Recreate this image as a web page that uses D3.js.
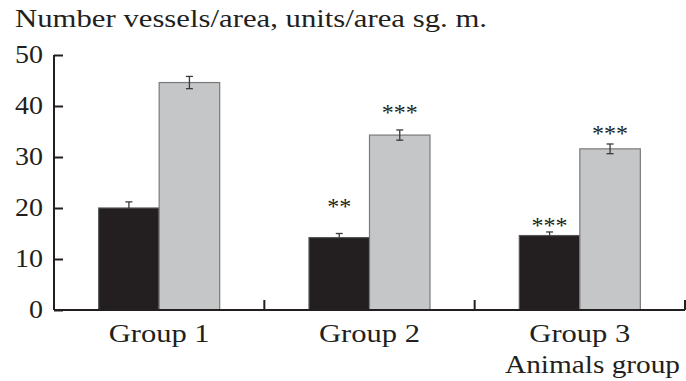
<!DOCTYPE html>
<html>
<head>
<meta charset="utf-8">
<script src="https://cdn.jsdelivr.net/npm/d3@7"></script>
<style>
  html, body { margin: 0; padding: 0; background: #fff; }
  svg { display: block; }
  text { font-family: "Liberation Serif", "Times New Roman", serif; fill: #231f20; }
</style>
</head>
<body>
<svg id="chart" width="686" height="381"></svg>
<script>
// ---- data ----
const groups = ["Group 1", "Group 2", "Group 3"];
const series = ["dark", "light"];
const darkValues = [20.0, 14.2, 14.6];
const darkErrors = [1.2, 0.8, 0.7];
const lightValues = [44.6, 34.3, 31.6];
const lightErrors = [1.2, 1.0, 0.95];
const darkStars = ["", "**", "***"];
const lightStars = ["", "***", "***"];
const darkStarLevel = [null, 21.0, 17.3];
const lightStarLevel = [null, 39.4, 35.3];
const yTicks = [0, 10, 20, 30, 40, 50];
const titleText = "Number vessels/area, units/area sg. m.";
const xAxisTitle = "Animals group";

// ---- layout ----
const svg = d3.select("#chart");
const mLeft = 54, mRight = 685, mTop = 55, mBottom = 310;
const ink = "#231f20";

const x0 = d3.scaleBand().domain(groups).range([mLeft, mRight]);
const bw = x0.bandwidth();
const barW = 60.5;
const x1 = d3.scaleBand().domain(series).range([bw / 2 - barW, bw / 2 + barW]);
const y = d3.scaleLinear().domain([0, 50]).range([mBottom, mTop]);

const rows = groups.map((g, i) => ({
  group: g,
  bars: [
    { s: "dark", v: darkValues[i], e: darkErrors[i], star: darkStars[i], lvl: darkStarLevel[i] },
    { s: "light", v: lightValues[i], e: lightErrors[i], star: lightStars[i], lvl: lightStarLevel[i] }
  ]
}));

const fill = { dark: "#231f20", light: "#c5c6c8" };
const stroke = { dark: "#555", light: "#7a7a7a" };

const gGroups = svg.selectAll("g.grp").data(rows).join("g")
  .attr("class", "grp")
  .attr("transform", d => `translate(${x0(d.group)},0)`);

gGroups.selectAll("rect").data(d => d.bars).join("rect")
  .attr("x", d => x1(d.s))
  .attr("y", d => y(d.v))
  .attr("width", x1.bandwidth())
  .attr("height", d => y(0) - y(d.v))
  .attr("fill", d => fill[d.s])
  .attr("stroke", d => stroke[d.s])
  .attr("stroke-width", 1.2);

// error bars
const eb = gGroups.selectAll("g.err").data(d => d.bars).join("g").attr("class", "err")
  .attr("stroke", "#3a3a3a").attr("stroke-width", 1.3);
eb.append("line")
  .attr("x1", d => x1(d.s) + x1.bandwidth() / 2)
  .attr("x2", d => x1(d.s) + x1.bandwidth() / 2)
  .attr("y1", d => y(d.s === "dark" ? d.v : d.v - d.e))
  .attr("y2", d => y(d.v + d.e));
eb.append("line")
  .attr("x1", d => x1(d.s) + x1.bandwidth() / 2 - 3.5)
  .attr("x2", d => x1(d.s) + x1.bandwidth() / 2 + 3.5)
  .attr("y1", d => y(d.v + d.e))
  .attr("y2", d => y(d.v + d.e));
eb.filter(d => d.s === "light").append("line")
  .attr("x1", d => x1(d.s) + x1.bandwidth() / 2 - 3.5)
  .attr("x2", d => x1(d.s) + x1.bandwidth() / 2 + 3.5)
  .attr("y1", d => y(d.v - d.e))
  .attr("y2", d => y(d.v - d.e));

// significance stars
gGroups.selectAll("text.star").data(d => d.bars.filter(b => b.star)).join("text")
  .attr("class", "star")
  .attr("x", d => x1(d.s) + x1.bandwidth() / 2)
  .attr("y", d => y(d.lvl) + 11)
  .attr("text-anchor", "middle")
  .attr("font-size", 24)
  .text(d => d.star);

// y axis
const yAxis = d3.axisRight(y).tickValues(yTicks).tickSize(9).tickFormat("");
const gy = svg.append("g").attr("transform", `translate(${mLeft},0)`).call(yAxis);
gy.select(".domain").attr("stroke", ink).attr("stroke-width", 2).attr("d", `M0,${mTop}V${mBottom}`);
gy.selectAll(".tick line").attr("stroke", ink).attr("stroke-width", 2);
svg.selectAll("text.ytl").data(yTicks).join("text")
  .attr("class", "ytl")
  .attr("x", 43)
  .attr("y", d => y(d))
  .attr("dy", "0.33em")
  .attr("text-anchor", "end")
  .attr("font-size", 25)
  .attr("textLength", d => String(d).length < 2 ? 14 : 28)
  .attr("lengthAdjust", "spacingAndGlyphs")
  .text(d => d);

// x axis: boundary ticks
const boundaries = groups.map(g => x0(g)).concat([mRight]);
svg.append("line").attr("x1", mLeft).attr("x2", mRight).attr("y1", mBottom).attr("y2", mBottom)
  .attr("stroke", ink).attr("stroke-width", 2);
svg.selectAll("line.xb").data(boundaries.slice(1)).join("line")
  .attr("class", "xb")
  .attr("x1", d => d).attr("x2", d => d)
  .attr("y1", mBottom).attr("y2", mBottom - 10)
  .attr("stroke", ink).attr("stroke-width", 2);

svg.selectAll("text.xl").data(groups).join("text")
  .attr("class", "xl")
  .attr("x", d => x0(d) + bw / 2)
  .attr("y", 342)
  .attr("text-anchor", "middle")
  .attr("font-size", 25)
  .attr("textLength", 101)
  .attr("lengthAdjust", "spacingAndGlyphs")
  .text(d => d);

svg.append("text")
  .attr("x", 505).attr("y", 373)
  .attr("font-size", 25)
  .attr("textLength", 175)
  .attr("lengthAdjust", "spacingAndGlyphs")
  .text(xAxisTitle);

svg.append("text")
  .attr("x", 15).attr("y", 27)
  .attr("font-size", 25)
  .attr("textLength", 472)
  .attr("lengthAdjust", "spacingAndGlyphs")
  .text(titleText);
</script>
</body>
</html>
